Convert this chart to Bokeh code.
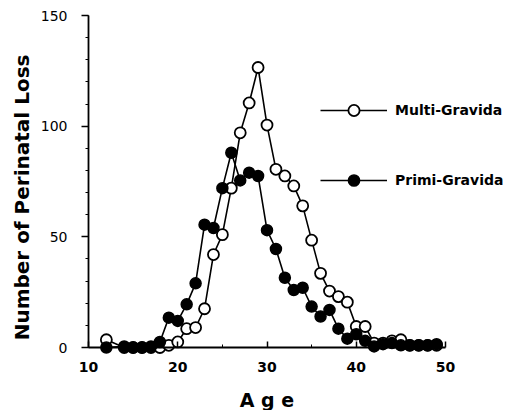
from bokeh.plotting import figure
from bokeh.models import (Range1d, FixedTicker, Label, Legend, LegendItem)
from bokeh.embed import file_html
from bokeh.resources import INLINE

# Perinatal loss counts by maternal age
ages = [12, 14, 15, 16, 17, 18, 19, 20, 21, 22, 23, 24, 25, 26, 27, 28, 29, 30,
        31, 32, 33, 34, 35, 36, 37, 38, 39, 40, 41, 42, 43, 44, 45, 46, 47, 48, 49]
multi_gravida = [3.5, 0, 0, 0, 0, 0, 1, 2.5, 8.5, 9, 17.5, 42, 51, 72, 97, 110.5,
                 126.5, 100.5, 80.5, 77.5, 73, 64, 48.5, 33.5, 25.5, 23, 20.5,
                 9.5, 9.5, 2, 2, 3, 3.5, 1, 1, 1, 1]
primi_gravida = [0, 0.5, 0, 0, 0.5, 2.5, 13.5, 12, 19.5, 29, 55.5, 54, 72, 88,
                 75.5, 79, 77.5, 53, 44.5, 31.5, 26, 27, 18.5, 14, 17, 8.5, 4,
                 6, 3, 0.5, 1.5, 2, 1, 1, 1, 1, 1.5]

x_ticks = [10, 20, 30, 40, 50]
y_ticks = [0, 50, 100, 150]

BOLD = "DejaVu Sans"

# The frame fills the whole canvas; both axes sit at fixed data locations
# (age 10 / count 0) so their labels and the titles are never clipped.
p = figure(width=509, height=410, output_backend="svg", toolbar_location=None,
           x_range=Range1d(0.14, 57.17), y_range=Range1d(-28.46, 156.78),
           min_border=0)
p.title.visible = False
p.outline_line_color = None
p.xgrid.visible = False
p.ygrid.visible = False
p.background_fill_color = "white"
p.border_fill_color = "white"

# axes
xa = p.xaxis[0]
xa.fixed_location = 0
xa.bounds = (10, 50)
xa.ticker = FixedTicker(ticks=x_ticks, minor_ticks=[15, 25, 35, 45])
xa.axis_line_width = 1.8
xa.major_tick_in = 6
xa.major_tick_out = 0
xa.minor_tick_in = 3
xa.minor_tick_out = 0
xa.major_tick_line_width = 1.5
xa.major_label_standoff = 14
xa.major_label_text_font = BOLD
xa.major_label_text_font_style = "bold"
xa.major_label_text_font_size = "14px"
xa.major_label_text_color = "black"

ya = p.yaxis[0]
ya.fixed_location = 10
ya.bounds = (0, 150)
ya.ticker = FixedTicker(ticks=y_ticks, minor_ticks=list(range(0, 151, 10)))
ya.axis_line_width = 1.8
ya.major_tick_in = 0
ya.major_tick_out = 7
ya.minor_tick_in = 0
ya.minor_tick_out = 3
ya.major_tick_line_width = 1.5
ya.major_label_standoff = 14
ya.major_label_text_font = "DejaVu Sans"
ya.major_label_text_font_size = "14px"
ya.major_label_text_color = "black"

# series
line_m = p.line(ages, multi_gravida, line_color="black", line_width=1.6)
pts_m = p.scatter(ages, multi_gravida, marker="circle", size=11,
                  fill_color="white", line_color="black", line_width=1.8)
line_p = p.line(ages, primi_gravida, line_color="black", line_width=1.6)
pts_p = p.scatter(ages, primi_gravida, marker="circle", size=11,
                  fill_color="black", line_color="black", line_width=1.5)

legend = Legend(items=[LegendItem(label="Multi-Gravida", renderers=[line_m, pts_m]),
                       LegendItem(label="Primi-Gravida", renderers=[line_p, pts_p])],
                location=(320, 216), glyph_width=67, glyph_height=28,
                spacing=42, padding=0, margin=0, label_standoff=8,
                border_line_alpha=0, background_fill_alpha=0,
                label_text_font=BOLD, label_text_font_style="bold",
                label_text_font_size="14px", label_text_color="black")
p.add_layout(legend)

# axis titles
p.add_layout(Label(x=30, y=-23.5, text="A g e", text_align="center",
                   text_baseline="middle", text_font=BOLD, text_color="black",
                   text_font_style="bold", text_font_size="19px"))
p.add_layout(Label(x=2.6, y=67.8, text="Number of Perinatal Loss", angle=1.5708,
                   text_align="center", text_baseline="middle", text_font=BOLD,
                   text_color="black", text_font_style="bold",
                   text_font_size="20px"))

open("out.html", "w").write(file_html(p, INLINE))
